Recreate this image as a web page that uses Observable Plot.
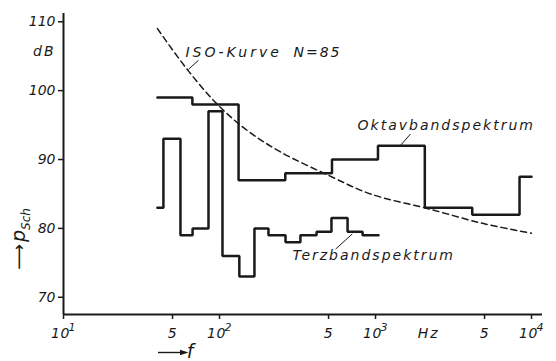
<!DOCTYPE html>
<html><head><meta charset="utf-8">
<script src="https://cdn.jsdelivr.net/npm/d3@7"></script>
<script src="https://cdn.jsdelivr.net/npm/@observablehq/plot@0.6"></script>
<style>
body{margin:0;background:#fff;}
#chart svg{font-family:"DejaVu Sans",sans-serif;font-style:italic;}
#chart g[aria-label="text"] text{letter-spacing:2px;}
</style></head><body><div id="chart"></div>
<script>
// Oktavband spectrum: band edges (Hz) and levels (dB)
const octaveEdges = [40, 67, 132.5, 264, 526, 1037, 2070, 4170, 8380, 10000];
const octaveLevels = [99, 98, 87, 88, 90, 92, 83, 82, 87.5];
// Terzband spectrum: band edges (Hz) and levels (dB)
const terzEdges = [40, 43.7, 56.2, 67.2, 85, 104.5, 134, 167.5, 206, 265, 330, 419, 522, 662, 826, 1045];
const terzLevels = [83, 93, 79, 80, 97, 76, 73, 80, 79, 78, 79, 79.5, 81.5, 79.5, 79];
// ISO curve N=85
const isoFreq = [40, 62, 97, 151, 246, 500, 929, 2140, 4920, 10000];
const isoLevel = [109, 103.1, 98, 94.2, 91.1, 87.7, 85, 82.9, 80.7, 79.3];
// ticks
const xTicks = [10, 50, 100, 500, 1000, 5000, 10000];
const xTickBase = ["10", "5", "10", "5", "10", "5", "10"];
const xTickExp = ["1", "", "2", "", "3", "", "4"];
const yTicks = [70, 80, 90, 100, 110];
const xDomain = [10, 11760];
const yDomain = [67.5, 111.2];

function steps(edges, levels) {
  const pts = levels.map((v, i) => ({f: edges[i], p: v}));
  pts.push({f: edges[edges.length - 1], p: levels[levels.length - 1]});
  return pts;
}
const octave = steps(octaveEdges, octaveLevels);
const terz = steps(terzEdges, terzLevels);
const iso = isoFreq.map((f, i) => ({f, p: isoLevel[i]}));
const xt = xTicks.map((f, i) => ({f, base: xTickBase[i], exp: xTickExp[i], y0: yDomain[0]}));
const xtPow = xt.filter(d => d.exp);
const xtFive = xt.filter(d => !d.exp);

const ink = "#1a1a1a";
const chart = Plot.plot({
  width: 556, height: 361,
  marginLeft: 63, marginRight: 14, marginTop: 13, marginBottom: 47,
  style: {fontFamily: "DejaVu Sans", fontStyle: "italic", fontSize: "14px", background: "white", color: ink},
  x: {type: "log", domain: xDomain},
  y: {domain: yDomain},
  marks: [
    Plot.axisX({ticks: xTicks, tickFormat: () => "", tickSize: 5, label: null, strokeWidth: 1.5}),
    Plot.axisY({ticks: yTicks, tickSize: 5, tickPadding: 3, label: null, strokeWidth: 1.5, fontSize: 14}),
    Plot.ruleX([xDomain[0]], {stroke: ink, strokeWidth: 2}),
    Plot.ruleY([yDomain[0]], {stroke: ink, strokeWidth: 2}),
    Plot.line(iso, {x: "f", y: "p", curve: "catmull-rom", stroke: ink, strokeWidth: 1.5, strokeDasharray: "6,4"}),
    Plot.line(octave, {x: "f", y: "p", curve: "step-after", stroke: ink, strokeWidth: 2.5, strokeLinejoin: "miter"}),
    Plot.line(terz, {x: "f", y: "p", curve: "step-after", stroke: ink, strokeWidth: 2.5, strokeLinejoin: "miter"}),
    Plot.link([0], {x1: [73.3], y1: [104.4], x2: [63.3], y2: [103.1], stroke: ink, strokeWidth: 1}),
    Plot.link([0], {x1: [1675], y1: [93.7], x2: [1445], y2: [92.04], stroke: ink, strokeWidth: 1}),
    Plot.link([0], {x1: [710], y1: [79.2], x2: [555], y2: [77.0], stroke: ink, strokeWidth: 1}),
    Plot.text(["ISO-Kurve"], {x: [60.5], y: [105.5], textAnchor: "start", fontSize: 14, fill: ink}),
    Plot.text(["N=85"], {x: [298], y: [105.5], textAnchor: "start", fontSize: 14, fill: ink}),
    Plot.text(["Oktavbandspektrum"], {x: [767], y: [94.95], textAnchor: "start", fontSize: 14, fill: ink}),
    Plot.text(["Terzbandspektrum"], {x: [294], y: [76.0], textAnchor: "start", fontSize: 14, fill: ink}),
    Plot.text(["dB"], {x: [xDomain[0]], y: [105.7], textAnchor: "end", dx: -8, fontSize: 14, fill: ink}),
    Plot.text(["Hz"], {x: [2190], y: [yDomain[0]], dy: 19, fontSize: 14, fill: ink}),
    // x tick labels: powers of ten (base + exponent) and the 5s
    Plot.text(xtPow, {x: "f", y: "y0", text: "base", dx: -3, dy: 19, fontSize: 14, fill: ink}),
    Plot.text(xtPow, {x: "f", y: "y0", text: "exp", textAnchor: "start", dx: 5, dy: 13, fontSize: 11, fill: ink}),
    Plot.text(xtFive, {x: "f", y: "y0", text: "base", dy: 19, fontSize: 14, fill: ink})
  ]
});
document.getElementById("chart").appendChild(chart);

// letter spacing: wider for ISO label, tighter for tick labels
d3.select(chart).selectAll('g[aria-label="text"] text').each(function() {
  const t = this.textContent;
  if (t === "ISO-Kurve") this.style.letterSpacing = "3px";
  if (/^[0-9]+$/.test(t)) this.style.letterSpacing = "0.5px";
});

// axis quantity labels with arrows
const svg = d3.select(chart);
const g = svg.append("g").attr("font-family", "DejaVu Sans").attr("font-style", "italic").attr("fill", ink);
// y: rotated "⟶ p_Sch" in one text element
const ty = g.append("text").attr("transform", "translate(25,239) rotate(-90)").attr("font-size", 19);
ty.append("tspan").attr("font-style", "normal").attr("font-size", 18).text("⟶");
ty.append("tspan").attr("dx", 2).text("p");
ty.append("tspan").attr("font-size", 12).attr("dy", 5).text("Sch");
// x: arrow + f
g.append("path").attr("d", "M158,352.5 H181").attr("stroke", ink).attr("stroke-width", 1.4).attr("fill", "none");
g.append("path").attr("d", "M188.5,352.5 L180,349.8 L180,355.2 Z").attr("fill", ink);
g.append("text").attr("x", 190).attr("y", 358).attr("font-size", 19).text("f");
</script></body></html>
